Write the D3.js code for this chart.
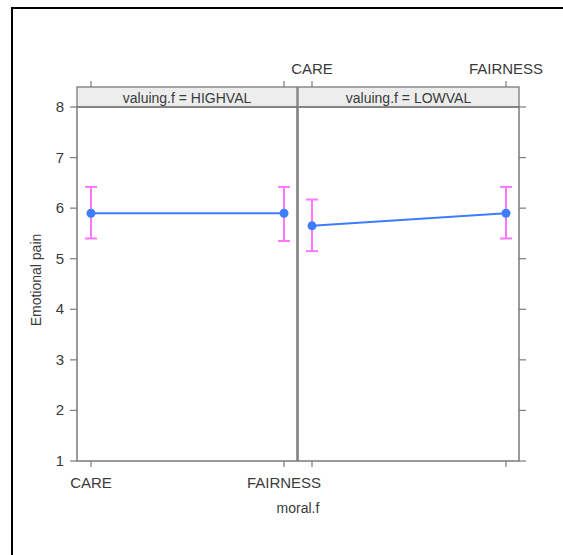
<!DOCTYPE html>
<html>
<head>
<meta charset="utf-8">
<script src="https://cdn.jsdelivr.net/npm/d3@7"></script>
<style>
body { margin: 0; background: #fff; }
text { font-family: "Liberation Sans", Arial, sans-serif; fill: #3a3a3a; }
</style>
</head>
<body>
<div id="chart"></div>
<script>
// data
var panels = ["HIGHVAL", "LOWVAL"];
var categories = ["CARE", "FAIRNESS"];
var fitHigh = [5.9, 5.9];
var lowerHigh = [5.4, 5.35];
var upperHigh = [6.42, 6.42];
var fitLow = [5.65, 5.9];
var lowerLow = [5.15, 5.4];
var upperLow = [6.17, 6.42];
var yTicks = [1, 2, 3, 4, 5, 6, 7, 8];

var series = [
	{fit: fitHigh, lower: lowerHigh, upper: upperHigh},
	{fit: fitLow, lower: lowerLow, upper: upperLow}
];

var width = 563, height = 555;
var svg = d3.select("#chart").append("svg")
	.attr("width", width).attr("height", height);

// outer frame (only left and top visible)
svg.append("path")
	.attr("d", "M12,560 L12,8 L570,8")
	.attr("fill", "none").attr("stroke", "#000").attr("stroke-width", 2);

var panelTop = 107, panelBottom = 461;
var stripTop = 87;
var panelX = [[77, 297], [298, 519]];
var borderColor = "#7a7a7a";
var fontSize = 15;

var y = d3.scaleLinear().domain([1, 8]).range([panelBottom, panelTop]);

panels.forEach(function(name, i) {
	var x0 = panelX[i][0], x1 = panelX[i][1];
	var x = d3.scalePoint().domain(categories).range([x0 + 14, x1 - 13]);
	var g = svg.append("g");
	var s = series[i];

	// strip
	g.append("rect")
		.attr("x", x0).attr("y", stripTop)
		.attr("width", x1 - x0).attr("height", panelTop - stripTop)
		.attr("fill", "#ededed").attr("stroke", borderColor).attr("stroke-width", 1.3);
	g.append("text")
		.attr("x", (x0 + x1) / 2).attr("y", panelTop - 4)
		.attr("text-anchor", "middle").attr("font-size", fontSize - 1)
		.text("valuing.f = " + name);

	// panel box
	g.append("rect")
		.attr("x", x0).attr("y", panelTop)
		.attr("width", x1 - x0).attr("height", panelBottom - panelTop)
		.attr("fill", "none").attr("stroke", borderColor).attr("stroke-width", 1.5);

	// x ticks top and bottom
	categories.forEach(function(c) {
		g.append("line")
			.attr("x1", x(c)).attr("x2", x(c))
			.attr("y1", panelBottom).attr("y2", panelBottom + 6)
			.attr("stroke", borderColor).attr("stroke-width", 1.2);
		g.append("line")
			.attr("x1", x(c)).attr("x2", x(c))
			.attr("y1", stripTop).attr("y2", stripTop - 6)
			.attr("stroke", borderColor).attr("stroke-width", 1.2);
		if (i === 0) {
			g.append("text")
				.attr("x", x(c)).attr("y", panelBottom + 27)
				.attr("text-anchor", "middle").attr("font-size", fontSize)
				.text(c);
		} else {
			g.append("text")
				.attr("x", x(c)).attr("y", stripTop - 13)
				.attr("text-anchor", "middle").attr("font-size", fontSize)
				.text(c);
		}
	});

	// y ticks
	yTicks.forEach(function(t) {
		if (i === 0) {
			g.append("line")
				.attr("x1", x0 - 7).attr("x2", x0)
				.attr("y1", y(t)).attr("y2", y(t))
				.attr("stroke", borderColor).attr("stroke-width", 1.2);
			g.append("text")
				.attr("x", x0 - 13).attr("y", y(t) + 5)
				.attr("text-anchor", "end").attr("font-size", fontSize)
				.text(t);
		} else {
			g.append("line")
				.attr("x1", x1).attr("x2", x1 + 7)
				.attr("y1", y(t)).attr("y2", y(t))
				.attr("stroke", borderColor).attr("stroke-width", 1.2);
		}
	});

	// error bars
	categories.forEach(function(c, j) {
		var cx = x(c);
		g.append("line")
			.attr("x1", cx).attr("x2", cx)
			.attr("y1", y(s.lower[j])).attr("y2", y(s.upper[j]))
			.attr("stroke", "#ff77ff").attr("stroke-width", 2);
		[s.lower[j], s.upper[j]].forEach(function(v) {
			g.append("line")
				.attr("x1", cx - 6).attr("x2", cx + 6)
				.attr("y1", y(v)).attr("y2", y(v))
				.attr("stroke", "#ff77ff").attr("stroke-width", 2);
		});
	});

	// fit line and points
	var line = d3.line()
		.x(function(d, j) { return x(categories[j]); })
		.y(function(d) { return y(d); });
	g.append("path")
		.datum(s.fit)
		.attr("d", line)
		.attr("fill", "none").attr("stroke", "#3d7eff").attr("stroke-width", 2);
	g.selectAll("circle").data(s.fit).enter().append("circle")
		.attr("cx", function(d, j) { return x(categories[j]); })
		.attr("cy", function(d) { return y(d); })
		.attr("r", 4.5)
		.attr("fill", "#3d7eff");
});

// axis titles
svg.append("text")
	.attr("transform", "translate(41,280) rotate(-90)")
	.attr("text-anchor", "middle").attr("font-size", 14)
	.text("Emotional pain");
svg.append("text")
	.attr("x", 298).attr("y", 513)
	.attr("text-anchor", "middle").attr("font-size", 14)
	.text("moral.f");
</script>
</body>
</html>
